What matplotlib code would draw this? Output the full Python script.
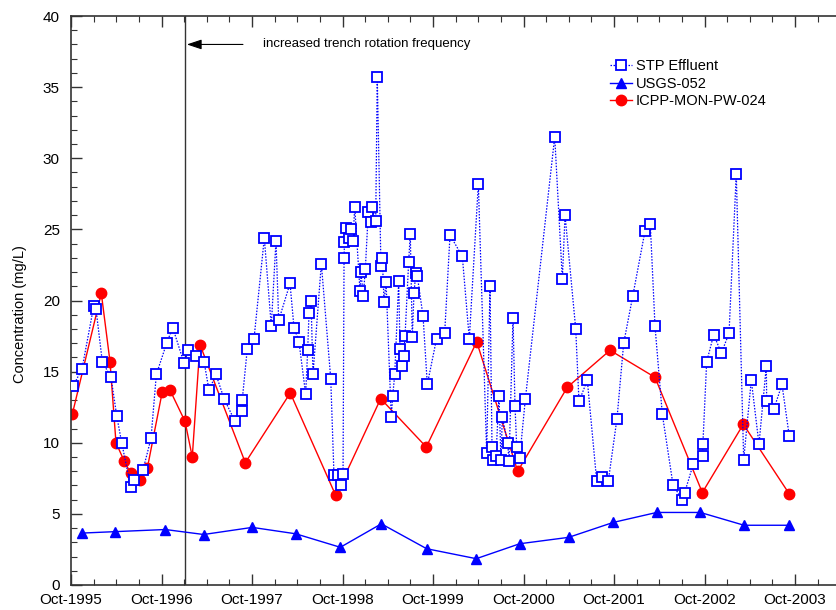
import matplotlib
matplotlib.use("Agg")
import matplotlib.pyplot as plt
from matplotlib.ticker import MultipleLocator, FixedLocator
from matplotlib.lines import Line2D

plt.rcParams['font.family'] = ['Liberation Sans', 'DejaVu Sans']

# sample times as decimal years, concentrations in mg/L
stp_t = [1995.775, 1995.872, 1996.001, 1996.026, 1996.096, 1996.192, 1996.255, 1996.310,
         1996.410, 1996.446, 1996.546, 1996.634, 1996.693, 1996.807, 1996.874, 1996.999,
         1997.048, 1997.131, 1997.220, 1997.275, 1997.352, 1997.441, 1997.562, 1997.636,
         1997.642, 1997.698, 1997.772, 1997.886, 1997.963, 1998.015, 1998.045, 1998.170,
         1998.214, 1998.269, 1998.343, 1998.365, 1998.380, 1998.402, 1998.424, 1998.516,
         1998.620, 1998.656, 1998.700, 1998.730, 1998.756, 1998.767, 1998.772, 1998.792,
         1998.819, 1998.844, 1998.866, 1998.885, 1998.943, 1998.954, 1998.980, 1999.002,
         1999.035, 1999.062, 1999.076, 1999.117, 1999.134, 1999.175, 1999.190, 1999.209,
         1999.231, 1999.289, 1999.305, 1999.327, 1999.371, 1999.385, 1999.404, 1999.426,
         1999.441, 1999.481, 1999.499, 1999.521, 1999.540, 1999.559, 1999.577, 1999.640,
         1999.687, 1999.789, 1999.879, 1999.938, 2000.074, 2000.151, 2000.251, 2000.343,
         2000.380, 2000.402, 2000.416, 2000.446, 2000.479, 2000.501, 2000.516, 2000.575,
         2000.590, 2000.634, 2000.656, 2000.675, 2000.708, 2000.770, 2001.095, 2001.179,
         2001.209, 2001.327, 2001.363, 2001.455, 2001.559, 2001.617, 2001.687, 2001.783,
         2001.857, 2001.957, 2002.093, 2002.151, 2002.203, 2002.284, 2002.402, 2002.501,
         2002.531, 2002.626, 2002.730, 2002.732, 2002.774, 2002.852, 2002.936, 2003.021,
         2003.101, 2003.183, 2003.267, 2003.352, 2003.433, 2003.437, 2003.518, 2003.606,
         2003.687]
stp_c = [14.0, 15.2, 19.6, 19.4, 15.7, 14.6, 11.9, 10.0,
         6.9, 7.4, 8.1, 10.3, 14.8, 17.0, 18.1, 15.6,
         16.5, 16.1, 15.7, 13.7, 14.8, 13.1, 11.5, 12.2,
         13.0, 16.6, 17.3, 24.4, 18.2, 24.2, 18.6, 21.2,
         18.1, 17.1, 13.4, 16.5, 19.1, 20.0, 14.8, 22.6,
         14.5, 7.7, 7.7, 7.0, 7.8, 23.0, 24.1, 25.1,
         24.4, 25.0, 24.2, 26.6, 20.7, 22.0, 20.3, 22.2,
         26.2, 25.5, 26.6, 25.6, 35.7, 22.4, 23.0, 19.9,
         21.3, 11.8, 13.3, 14.8, 21.4, 16.6, 15.4, 16.1,
         17.5, 22.7, 24.7, 17.4, 20.5, 21.9, 21.7, 18.9,
         14.1, 17.3, 17.7, 24.6, 23.1, 17.3, 28.2, 9.3,
         21.0, 9.7, 8.8, 9.1, 13.3, 8.8, 11.8, 10.0,
         8.7, 18.8, 12.6, 9.7, 8.95, 13.05, 31.5, 21.5,
         26.0, 18.0, 12.9, 14.4, 7.3, 7.6, 7.3, 11.7,
         17.0, 20.3, 24.9, 25.4, 18.2, 12.0, 7.05, 6.0,
         6.5, 8.5, 9.1, 9.9, 15.7, 17.6, 16.3, 17.7,
         28.9, 8.8, 14.4, 9.9, 15.4, 12.95, 12.4, 14.1,
         10.45]

usgs_t = [1995.872, 1996.233, 1996.792, 1997.216, 1997.753, 1998.233, 1998.726, 1999.179,
          1999.680, 2000.228, 2000.708, 2001.249, 2001.742, 2002.222, 2002.704, 2003.187,
          2003.687]
usgs_c = [3.65, 3.75, 3.9, 3.55, 4.05, 3.6, 2.65, 4.3,
          2.55, 1.85, 2.9, 3.35, 4.4, 5.1, 5.1, 4.2,
          4.2]

icpp_t = [1995.764, 1996.085, 1996.181, 1996.247, 1996.339, 1996.410, 1996.512, 1996.593,
          1996.759, 1996.844, 1997.010, 1997.090, 1997.175, 1997.676, 1998.173, 1998.675,
          1999.172, 1999.676, 2000.233, 2000.686, 2001.234, 2001.706, 2002.203, 2002.726,
          2003.179, 2003.687]
icpp_c = [12.0, 20.5, 15.7, 10.0, 8.7, 7.85, 7.4, 8.2,
          13.6, 13.7, 11.5, 9.0, 16.9, 8.6, 13.5, 6.3,
          13.1, 9.7, 17.1, 8.0, 13.9, 16.5, 14.6, 6.5,
          11.3, 6.4]

years = [1995, 1996, 1997, 1998, 1999, 2000, 2001, 2002, 2003]
change_t = 1997.01

fig = plt.figure(figsize=(8.36, 6.10), dpi=100)
ax = fig.add_axes([71 / 836, 25 / 610, 1 - 71 / 836, 569 / 610])

ax.plot(icpp_t, icpp_c, color='#ff0000', lw=1.0, marker='o', ms=7.5,
        mfc='#ff0000', mec='#ff0000', zorder=2)
ax.plot(stp_t, stp_c, color='#0000ff', lw=0.9, ls=(0, (1.2, 1.2)), marker='s', ms=7.5,
        mfc='white', mec='#0000ff', mew=1.3, zorder=3)
ax.plot(usgs_t, usgs_c, color='#0000ff', lw=1.0, marker='^', ms=7.5,
        mfc='#0000ff', mec='#0000ff', zorder=3)

ax.axvline(change_t, color='#333333', lw=1.0, zorder=1)
ax.annotate('', xy=(change_t + 0.02, 38), xytext=(1997.65, 38),
            arrowprops=dict(arrowstyle='-|>,head_length=0.9,head_width=0.3',
                            color='black', lw=0.8, shrinkA=0, shrinkB=0))
ax.text(1997.87, 38, 'increased trench rotation frequency', fontsize=9.5,
        va='center', ha='left')

ax.set_xlim(1995.75, 2004.203)
ax.set_ylim(0, 40)
ax.xaxis.set_major_locator(FixedLocator([y + 0.75 for y in years]))
ax.set_xticklabels([f'Oct-{y}' for y in years])
ax.xaxis.set_minor_locator(MultipleLocator(0.25))
ax.yaxis.set_major_locator(MultipleLocator(5))
ax.yaxis.set_minor_locator(MultipleLocator(1))
ax.tick_params(which='both', direction='in', top=True, right=False, color='#333333')
ax.tick_params(which='major', length=8, width=1.0, labelsize=11)
ax.tick_params(which='minor', length=4, width=0.8)
ax.tick_params(axis='y', pad=8)
ax.tick_params(axis='x', pad=6)
for s in ['left', 'bottom', 'top']:
    ax.spines[s].set_color('#333333')
    ax.spines[s].set_linewidth(1.2)
ax.spines['right'].set_visible(False)

ax.set_ylabel('Concentration (mg/L)', fontsize=10.5)
ax.yaxis.set_label_coords(-0.058, 0.476)

handles = [
    Line2D([], [], color='#0000ff', lw=0.9, ls=(0, (1.2, 1.2)), marker='s', ms=7.5,
           mfc='white', mec='#0000ff', mew=1.3),
    Line2D([], [], color='#0000ff', lw=1.0, marker='^', ms=7.5, mfc='#0000ff'),
    Line2D([], [], color='#ff0000', lw=1.0, marker='o', ms=7.5, mfc='#ff0000'),
]
ax.legend(handles, ['STP Effluent', 'USGS-052', 'ICPP-MON-PW-024'],
          loc='upper left', bbox_to_anchor=(610 / 836, 1 - 59 / 610),
          bbox_transform=fig.transFigure, frameon=False, fontsize=10.5,
          handlelength=1.5, handletextpad=0.25, labelspacing=0.25,
          borderpad=0, borderaxespad=0)

fig.savefig('out.png', dpi=100)
